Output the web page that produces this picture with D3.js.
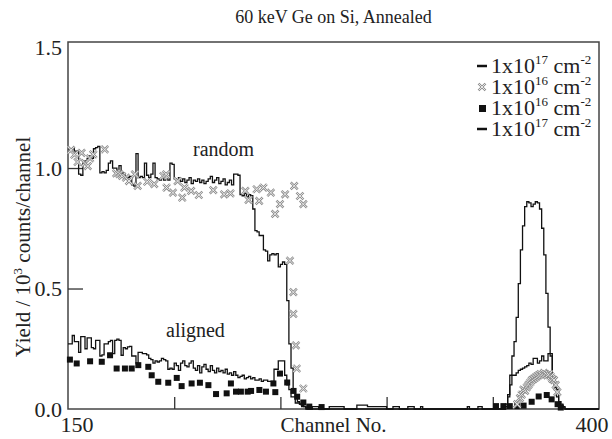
<!DOCTYPE html>
<html>
<head>
<meta charset="utf-8">
<title>60 keV Ge on Si</title>
<script src="https://cdn.jsdelivr.net/npm/d3@7"></script>
<style>
  body { margin: 0; background: #fff; }
</style>
</head>
<body>
<script>
// channel-by-channel yields (10^3 counts/channel)
const random17Start = 150;
const random17 = [1.08,1.08,1.08,1.07,1.07, 0.975,0.97,1.02,1.03,1.04, 1.05,1.04,1.08,1.085,1.09,
  0.98,0.985,0.98,0.99,1.02, 1.03,1.0,1.0,0.99,1.01, 0.98,0.97,0.96,0.96,0.965,
  0.93,0.925,1.06,0.96,0.965, 0.96,1.02,0.97,0.96,0.975, 1.02,0.96,0.955,0.95,0.96,
  0.95,0.955,0.95,1.02,1.015, 0.955,0.95,0.96,0.945,0.955, 0.94,0.95,0.96,0.935,0.95,
  0.945,0.955,0.94,0.95,0.935, 0.945,0.955,0.965,0.94,0.95, 0.96,0.935,0.945,0.955,0.93,
  0.94,0.95,0.93,0.975,0.975, 0.97,0.89,0.885,0.895,0.88, 0.89,0.885,0.83,0.74,0.735,
  0.72,0.72,0.66,0.655,0.615, 0.64,0.645,0.64,0.645,0.59, 0.6,0.61,0.6,0.45,0.27,
  0.17,0.08,0.05,0.03,0.02, 0.015,0.01];
// near-zero stretch between surface edge and Ge peak: [channel, value] where it changes
const random17Tail = [[262,0.005],[263,0],[265,0.01],[268,0],[273,0.01],[280,0],[286,0.016],[291,0.01],[300,0],
  [303,0.01],[306,0],[310,0.01],[313,0],[316,0.01],[317,0],[338,0.01],[339,0],[343,0.01],[345,0]];
const peakStart = 356;
const random17Peak = [0.01,0.06,0.14,0.22,0.28,0.38,0.52,0.66,0.76,0.84,0.86,0.855,0.84,0.85,0.86,
  0.855,0.83,0.75,0.64,0.48,0.34,0.22,0.13,0.08,0.05,0.03,0.015,0.005,0];

const aligned17Start = 150;
const aligned17 = [0.27,0.27,0.305,0.28,0.28, 0.235,0.3,0.3,0.25,0.295, 0.295,0.255,0.25,0.285,0.285,
  0.22,0.225,0.27,0.27,0.28, 0.285,0.23,0.285,0.29,0.285, 0.223,0.255,0.25,0.258,0.26,
  0.22,0.22,0.19,0.235,0.235, 0.23,0.23,0.225,0.21,0.205, 0.19,0.2,0.195,0.2,0.21,
  0.205,0.2,0.165,0.17,0.165, 0.19,0.18,0.16,0.19,0.2, 0.18,0.175,0.19,0.2,0.17,
  0.16,0.18,0.15,0.175,0.185, 0.165,0.155,0.18,0.16,0.15, 0.17,0.155,0.16,0.15,0.165,
  0.145,0.15,0.14,0.155,0.14, 0.13,0.135,0.14,0.125,0.13, 0.135,0.125,0.13,0.12,0.12,
  0.125,0.115,0.12,0.12,0.115, 0.115,0.115,0.165,0.165,0.2, 0.2,0.2,0.14,0.1,0.08,
  0.05,0.05,0.025,0.025,0.02, 0.01,0.01,0];
const aligned17Peak = [0.02,0.05,0.1,0.14,0.14,0.15,0.16,0.165,0.17,0.175,0.18,0.19,0.185,0.21,0.21,
  0.19,0.2,0.22,0.2,0.2,0.23,0.23,0.13,0.09,0.08,0.03,0.02,0.01,0];

// 1x10^16 random (crosses) and aligned (squares): [channel, value]
const random16 = [[151.5,1.075],[153,1.055],[154.5,1.025],[156.4,1.063],[158,1.02],[159.3,1.008],
  [160.4,1.04],[161.9,1.057],[167.3,1.077],[172.7,0.978],[174.2,0.975],[175.5,0.967],[177.3,0.96],
  [178.7,0.946],[181.5,0.974],[182.8,0.926],[187.3,0.943],[190.6,0.933],[194.9,0.967],[196.2,0.974],
  [196.4,0.919],[199.4,0.898],[201.6,0.946],[203.8,0.877],[204.8,0.919],[208,0.905],[211.6,0.888],
  [218.4,0.908],[223.5,0.891],[226.5,0.895],[233.5,0.905],[235,0.868],[238.8,0.912],[240,0.864],
  [242,0.919],[245.5,0.898],[247.5,0.81],[249.8,0.85],[252.2,0.891],[256.5,0.926],[259.2,0.884],
  [260.8,0.85],[254.5,0.616],[256.1,0.485],[256.1,0.395],[257.3,0.264],[257.7,0.168],[260.8,0.085],
  [361.5,0.02],[362.8,0.045],[363.6,0.06],[364.4,0.08],[365.2,0.075],[366,0.09],[366.8,0.1],
  [367.6,0.11],[368.4,0.12],[369.2,0.125],[370,0.13],[370.8,0.135],[371.6,0.14],[372.4,0.145],
  [373.2,0.14],[374,0.15],[374.8,0.145],[375.6,0.14],[376.4,0.145],[377.2,0.135],[378,0.125],
  [378.8,0.12],[379.6,0.1],[380.4,0.07]];
const aligned16 = [[150.9,0.205],[154.1,0.189],[160.4,0.198],[165.9,0.196],[169.8,0.223],[172.9,0.168],
  [176.8,0.168],[180,0.168],[183.1,0.182],[187.8,0.175],[189.4,0.14],[192.5,0.113],[197.2,0.109],
  [201.2,0.129],[203.5,0.095],[208.2,0.106],[212.1,0.109],[216.1,0.099],[219.7,0.062],[224.7,0.065],
  [226.7,0.106],[229.1,0.072],[231.4,0.072],[234.6,0.072],[236.2,0.075],[240.1,0.079],[243.2,0.072],
  [246.7,0.106],[247.6,0.07],[249.8,0.147],[253.2,0.11],[256.2,0.075],[257.9,0.051],[260.8,0.027],
  [263.6,0.01],[269.4,0.008],[351.5,0.012],[355,0.012],[358,0.012],[361.5,0.012],[364.5,0.014],
  [368.3,0.03],[371.6,0.052],[375.4,0.058],[377.7,0.04],[380.5,0.02],[382,0.006]];

const yTicks = [0.0, 0.5, 1.0, 1.5];
const xTicks = [200, 250, 300, 350];
const xLabels = [150, 400];
const legendExp = ["17", "16", "16", "17"];
const legendMark = ["line", "cross", "square", "line"];

const w = 612, h = 439;
const mLeft = 68, mRight = 599, mTop = 42, mBottom = 409;
const serif = "'Liberation Serif', 'DejaVu Serif', serif";

const xScale = d3.scaleLinear().domain([150, 400]).range([mLeft, mRight]);
const yScale = d3.scaleLinear().domain([0, 1.523]).range([mBottom, mTop]);

function dense(start, vals) { return vals.map((v, i) => [start + i, v]); }

const randomLine = dense(random17Start, random17).concat(random17Tail, dense(peakStart, random17Peak), [[400, 0]]);
const alignedLine = dense(aligned17Start, aligned17).concat([[263, 0]], dense(peakStart, aligned17Peak), [[400, 0]]);

const svg = d3.select("body").append("svg").attr("width", w).attr("height", h)
  .attr("font-family", serif).style("font-family", serif);

function label(x, y, size) {
  return svg.append("text").attr("x", x).attr("y", y)
    .attr("font-family", serif).attr("font-size", size).attr("fill", "#222");
}

// title
label((mLeft + mRight) / 2, 23, 18).attr("text-anchor", "middle")
  .text("60 keV Ge on Si, Annealed");

// frame
svg.append("rect").attr("x", mLeft).attr("y", mTop)
  .attr("width", mRight - mLeft).attr("height", mBottom - mTop)
  .attr("fill", "none").attr("stroke", "#444").attr("stroke-width", 1.5);

// inward ticks
svg.append("g").attr("transform", "translate(0," + mBottom + ")")
  .call(d3.axisBottom(xScale).tickValues(xTicks).tickSize(-12).tickFormat(""))
  .call(g => g.select(".domain").remove())
  .call(g => g.selectAll("line").attr("stroke", "#333").attr("stroke-width", 1.3));
svg.append("g").attr("transform", "translate(" + mLeft + ",0)")
  .call(d3.axisLeft(yScale).tickValues([0.5, 1.0]).tickSize(-15).tickFormat(""))
  .call(g => g.select(".domain").remove())
  .call(g => g.selectAll("line").attr("stroke", "#333").attr("stroke-width", 1.3));

// tick labels
yTicks.forEach(d => {
  label(62, yScale(d), 22).attr("dy", "0.35em").attr("text-anchor", "end")
    .text(d3.format(".1f")(d));
});
xLabels.forEach(d => {
  label(xScale(d) + (d === 150 ? 9 : -7), 432, 22).attr("text-anchor", "middle").text(d);
});

label((mLeft + mRight) / 2, 432, 21).attr("text-anchor", "middle").text("Channel No.");

const yl = svg.append("text").attr("transform", "translate(30,247) rotate(-90)")
  .attr("text-anchor", "middle").attr("font-family", serif).attr("font-size", 21).attr("fill", "#222");
yl.append("tspan").text("Yield / 10");
yl.append("tspan").attr("dy", -8).attr("font-size", 13).text("3");
yl.append("tspan").attr("dy", 8).text(" counts/channel");

// spectra
const line = d3.line().x(d => xScale(d[0])).y(d => yScale(d[1])).curve(d3.curveStepAfter);
svg.append("path").datum(alignedLine).attr("d", line)
  .attr("fill", "none").attr("stroke", "#111").attr("stroke-width", 1.3);
svg.append("path").datum(randomLine).attr("d", line)
  .attr("fill", "none").attr("stroke", "#111").attr("stroke-width", 1.3);

svg.selectAll(".sq").data(aligned16).enter().append("rect")
  .attr("x", d => xScale(d[0]) - 3).attr("y", d => yScale(d[1]) - 3)
  .attr("width", 6).attr("height", 6).attr("fill", "#111");

const xPath = "M-3.5,-3.5L3.5,3.5M-3.5,3.5L3.5,-3.5";
function drawCross(sel) {
  sel.append("path").attr("d", xPath).attr("stroke", "#8c8c8c").attr("stroke-width", 2.4).attr("fill", "none");
  sel.append("path").attr("d", xPath).attr("stroke", "#fff").attr("stroke-width", 0.8).attr("fill", "none");
}
svg.selectAll(".cr").data(random16).enter().append("g")
  .attr("transform", d => "translate(" + xScale(d[0]) + "," + yScale(d[1]) + ")")
  .call(drawCross);

// legend
legendExp.forEach((d, i) => {
  const g = svg.append("g").attr("transform", "translate(0," + (73 + i * 21) + ")");
  if (legendMark[i] === "line") {
    g.append("line").attr("x1", 477).attr("x2", 487).attr("y1", -7).attr("y2", -7)
      .attr("stroke", "#111").attr("stroke-width", 2.5);
  } else if (legendMark[i] === "cross") {
    g.append("g").attr("transform", "translate(482,-7)").call(drawCross);
  } else {
    g.append("rect").attr("x", 479).attr("y", -10).attr("width", 7).attr("height", 7).attr("fill", "#111");
  }
  const t = g.append("text").attr("x", 491).attr("y", 0)
    .attr("font-family", serif).attr("font-size", 22).attr("fill", "#222");
  t.append("tspan").text("1x10");
  t.append("tspan").attr("dy", -9).attr("font-size", 13).text(d);
  t.append("tspan").attr("dy", 9).text(" cm");
  t.append("tspan").attr("dy", -9).attr("font-size", 13).text("-2");
});

// annotations
label(193, 156, 20).text("random");
label(166, 337, 20).text("aligned");
</script>
</body>
</html>
